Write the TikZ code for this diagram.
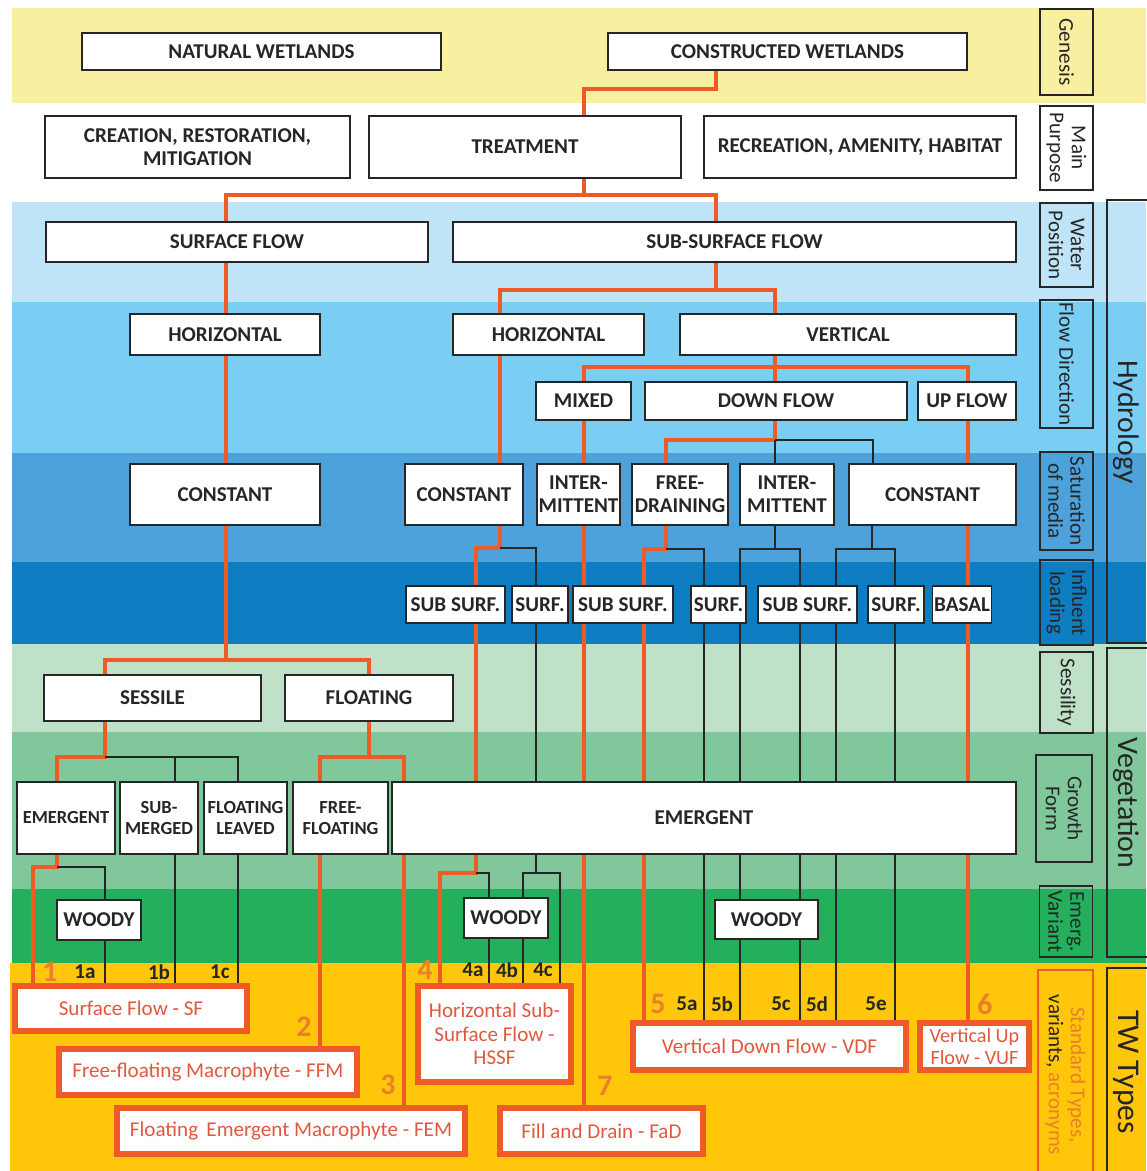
\documentclass[tikz,border=0pt]{standalone}
\usepackage{fontspec}
\setmainfont{Carlito}
\usetikzlibrary{backgrounds}
\definecolor{genF}{HTML}{F9EFA0}
\definecolor{watF}{HTML}{BFE4F7}
\definecolor{dirF}{HTML}{7ACEF3}
\definecolor{satF}{HTML}{4DA2DB}
\definecolor{infF}{HTML}{0F7DC2}
\definecolor{sesF}{HTML}{BEE1C8}
\definecolor{groF}{HTML}{80C79B}
\definecolor{varF}{HTML}{23AF5C}
\definecolor{typF}{HTML}{FFC60A}
\definecolor{ink}{HTML}{262626}
\definecolor{trunkO}{HTML}{EE5A28}
\definecolor{typeT}{HTML}{E2583F}
\definecolor{numO}{HTML}{EA7F2E}
\tikzset{
  box/.style={draw=ink, line width=0.9pt, fill=white, align=center,
              inner sep=1pt, text=ink, font=\fontsize{12}{13}\selectfont\bfseries},
  smallbox/.style={box, font=\fontsize{10.5}{12}\selectfont\bfseries},
  typebox/.style={draw=trunkO, line width=3.4pt, fill=white, align=center,
                  inner sep=1pt, text=typeT, font=\fontsize{12}{13.5}\selectfont},
  tag/.style={draw=ink, line width=0.8pt, rotate=-90, align=center,
              inner sep=0pt, minimum height=10.6mm, text=ink,
              font=\fontsize{12}{12.5}\selectfont},
  realm/.style={rotate=-90, text=ink, font=\fontsize{17}{17}\selectfont},
  frame/.style={draw=ink, line width=0.8pt},
  trunk/.style={draw=trunkO, line width=2.8pt},
  twig/.style={draw=ink, line width=0.8pt},
  num/.style={text=numO, font=\fontsize{17}{17}\selectfont\bfseries},
  variant/.style={text=ink, font=\fontsize{12}{12}\selectfont\bfseries},
}

\begin{document}
\begin{tikzpicture}[x=0.2mm, y=-0.2mm]
  \useasboundingbox (0,0) rectangle (1146,1171);

  % coloured levels
  \begin{scope}[on background layer]
    \fill[genF] (12,8) rectangle (1146,103);
    \fill[watF] (12,202) rectangle (1146,302);
    \fill[dirF] (12,302) rectangle (1146,453);
    \fill[satF] (12,453) rectangle (1146,562);
    \fill[infF] (12,562) rectangle (1146,644);
    \fill[sesF] (12,644) rectangle (1146,732);
    \fill[groF] (12,732) rectangle (1146,889);
    \fill[varF] (12,889) rectangle (1146,963);
    \fill[typF] (10,963) rectangle (1146,1171);
  \end{scope}

  % genesis and purpose
  \node[box, minimum width=71.8mm, minimum height=7.4mm] (nw) at (261.5,51.5) {NATURAL WETLANDS};
  \node[box, minimum width=71.8mm, minimum height=7.4mm] (cw) at (787.5,51.5) {CONSTRUCTED WETLANDS};
  \node[box, minimum width=61mm, minimum height=12.4mm] (crm) at (197.5,147) {CREATION, RESTORATION,\\ MITIGATION};
  \node[box, minimum width=62.4mm, minimum height=12.4mm] (tr) at (525,147) {TREATMENT};
  \node[box, minimum width=62.4mm, minimum height=12.4mm] (rah) at (860,147) {RECREATION, AMENITY, HABITAT};

  % hydrology
  \node[box, minimum width=76.4mm, minimum height=8mm] (sf) at (237,242) {SURFACE FLOW};
  \node[box, minimum width=112.6mm, minimum height=8mm] (ssf) at (734.5,242) {SUB-SURFACE FLOW};
  \node[box, minimum width=38mm, minimum height=8.2mm] (hl) at (225,334.5) {HORIZONTAL};
  \node[box, minimum width=38.2mm, minimum height=8.2mm] (hr) at (548.5,334.5) {HORIZONTAL};
  \node[box, minimum width=67.2mm, minimum height=8.2mm] (vt) at (848,334.5) {VERTICAL};
  \node[box, minimum width=19mm, minimum height=7.6mm] (mx) at (583.5,401) {MIXED};
  \node[box, minimum width=52.4mm, minimum height=7.6mm] (df) at (776,401) {DOWN FLOW};
  \node[box, minimum width=19.6mm, minimum height=7.6mm] (uf) at (967,401) {UP FLOW};
  \node[box, minimum width=38mm, minimum height=12.2mm] (cl) at (225,494.5) {CONSTANT};
  \node[box, minimum width=23.6mm, minimum height=12.2mm] (cm) at (464,494.5) {CONSTANT};
  \node[box, minimum width=16.6mm, minimum height=12.2mm] (im1) at (578.5,494.5) {INTER-\\MITTENT};
  \node[box, minimum width=19.2mm, minimum height=12.2mm] (fd) at (680,494.5) {FREE-\\DRAINING};
  \node[box, minimum width=18.8mm, minimum height=12.2mm] (im2) at (787,494.5) {INTER-\\MITTENT};
  \node[box, minimum width=33.4mm, minimum height=12.2mm] (cr) at (932.5,494.5) {CONSTANT};
  \node[box, minimum width=19.8mm, minimum height=7.4mm] (ss1) at (455.5,604.5) {SUB SURF.};
  \node[box, minimum width=11.2mm, minimum height=7.4mm] (su1) at (540,604.5) {SURF.};
  \node[box, minimum width=20mm, minimum height=7.4mm] (ss2) at (623,604.5) {SUB SURF.};
  \node[box, minimum width=11mm, minimum height=7.4mm] (su2) at (718.5,604.5) {SURF.};
  \node[box, minimum width=19.8mm, minimum height=7.4mm] (ss3) at (807.5,604.5) {SUB SURF.};
  \node[box, minimum width=11.2mm, minimum height=7.4mm] (su3) at (896,604.5) {SURF.};
  \node[box, minimum width=11.6mm, minimum height=7.4mm] (bs) at (962,604.5) {BASAL};

  % vegetation
  \node[box, minimum width=43.4mm, minimum height=9.2mm] (ses) at (152.5,698) {SESSILE};
  \node[box, minimum width=33.6mm, minimum height=9.2mm] (flo) at (369,698) {FLOATING};
  \node[smallbox, minimum width=19.6mm, minimum height=14.4mm] (em1) at (66,818) {EMERGENT};
  \node[smallbox, minimum width=15.6mm, minimum height=14.4mm] (sm) at (159,818) {SUB-\\MERGED};
  \node[smallbox, minimum width=16.6mm, minimum height=14.4mm] (fl) at (245.5,818) {FLOATING\\LEAVED};
  \node[smallbox, minimum width=19mm, minimum height=14.4mm] (ff) at (340.5,818) {FREE-\\FLOATING};
  \node[box, minimum width=124.8mm, minimum height=14.4mm] (em2) at (704,818) {EMERGENT};
  \node[box, minimum width=16.8mm, minimum height=8mm] (wd1) at (99,920) {WOODY};
  \node[box, minimum width=16.8mm, minimum height=8mm] (wd2) at (506,918) {WOODY};
  \node[box, minimum width=20.6mm, minimum height=7.8mm] (wd3) at (766.5,919.5) {WOODY};

  % treatment wetland types
  \node[typebox, minimum width=46.4mm, minimum height=9mm] (t1) at (131,1008.5) {Surface Flow - SF};
  \node[typebox, minimum width=59.6mm, minimum height=9.2mm] (t2) at (208,1072) {Free-floating Macrophyte - FFM};
  \node[typebox, minimum width=69.6mm, minimum height=9.2mm] (t3) at (291,1131) {Floating\, Emergent Macrophyte - FEM};
  \node[typebox, minimum width=30.6mm, minimum height=19.2mm] (t4) at (494.5,1034) {Horizontal Sub-\\Surface Flow -\\HSSF};
  \node[typebox, minimum width=54.6mm, minimum height=9.4mm] (t5) at (769.5,1046.5) {Vertical Down Flow - VDF};
  \node[typebox, minimum width=21.8mm, minimum height=9.4mm, font=\fontsize{11.5}{12}\selectfont] (t6) at (974.5,1046.5) {Vertical Up\\Flow - VUF};
  \node[typebox, minimum width=40.6mm, minimum height=9.2mm] (t7) at (601.5,1131) {Fill and Drain - FaD};

  % numbers and variants
  \node[num] (n1) at (50,972) {1};
  \node[num] (n2) at (304,1027) {2};
  \node[num] (n3) at (388,1085) {3};
  \node[num] (n4) at (425,970) {4};
  \node[num] (n5) at (658,1004) {5};
  \node[num] (n6) at (985,1004) {6};
  \node[num] (n7) at (605,1086) {7};
  \node[variant] (v1a) at (85,972) {1a};
  \node[variant] (v1b) at (159,972) {1b};
  \node[variant] (v1c) at (220,972) {1c};
  \node[variant] (v4a) at (473,970) {4a};
  \node[variant] (v4b) at (507,970) {4b};
  \node[variant] (v4c) at (543,970) {4c};
  \node[variant] (v5a) at (687,1004) {5a};
  \node[variant] (v5b) at (722,1004) {5b};
  \node[variant] (v5c) at (781,1004) {5c};
  \node[variant] (v5d) at (817,1004) {5d};
  \node[variant] (v5e) at (876,1004) {5e};

  % level tags on the right
  \node[tag, minimum width=17.2mm] (lgen) at (1066.5,52) {Genesis};
  \node[tag, minimum width=16.8mm] (lpur) at (1066.5,148) {Main\\Purpose};
  \node[tag, minimum width=16.8mm] (lwat) at (1066.5,245) {Water\\Position};
  \node[tag, minimum width=25.6mm] (ldir) at (1066.5,364) {Flow Direction};
  \node[tag, minimum width=19.6mm] (lsat) at (1066.5,501) {Saturation\\of media};
  \node[tag, minimum width=17mm] (linf) at (1066.5,602.5) {Influent\\loading};
  \node[tag, minimum width=16.2mm] (lses) at (1066.5,692.5) {Sessility};
  \node[tag, minimum width=21.4mm, minimum height=11.2mm] (lgro) at (1064,808.5) {Growth\\Form};
  \node[tag, minimum width=14.2mm] (lvar) at (1066,921.5) {Emerg.\\Variant};
  \node[tag, draw=trunkO, minimum width=42mm, minimum height=11mm] (lstd) at (1065.5,1075)
    {\textcolor{numO}{Standard Types,}\\ variants, \textcolor{numO}{acronyms}};

  % realms
  \draw[frame] (1160,200) -- (1107,200) -- (1107,643) -- (1160,643);
  \draw[frame] (1160,648) -- (1107,648) -- (1107,957) -- (1160,957);
  \draw[frame] (1160,968) -- (1107,968) -- (1107,1180);
  \node[realm] (rhyd) at (1126,422) {Hydrology};
  \node[realm] (rveg) at (1126,803) {Vegetation};
  \node[realm, font=\fontsize{18}{18}\selectfont] (rtyp) at (1126,1072) {TW Types};

  \begin{scope}[on background layer]
    % orange path to the standard types
    \coordinate (a1) at (716,89);
    \coordinate (a2) at (584,89);
    \draw[trunk] (cw.south -| a1) -- (a1) -- (a2) -- (tr.north -| a2);
    \coordinate (b0) at (584,195);
    \coordinate (b1) at (226,195);
    \coordinate (b2) at (716,195);
    \draw[trunk] (tr.south -| b0) -- (b0);
    \draw[trunk] (sf.north -| b1) -- (b1) -- (b2) -- (ssf.north -| b2);
    % surface flow
    \coordinate (c0) at (226,660);
    \coordinate (c1) at (105,660);
    \coordinate (c2) at (369,660);
    \draw[trunk] (sf.south -| c0) -- (hl.north -| c0) (hl.south -| c0) -- (cl.north -| c0)
      (cl.south -| c0) -- (c0);
    \draw[trunk] (ses.north -| c1) -- (c1) -- (c2) -- (flo.north -| c2);
    \coordinate (d1) at (105,757);
    \coordinate (d2) at (57,757);
    \draw[trunk] (ses.south -| d1) -- (d1) -- (d2) -- (em1.north -| d2);
    \coordinate (d3) at (57,867);
    \coordinate (d4) at (33,867);
    \draw[trunk] (em1.south -| d3) -- (d3) -- (d4) -- (t1.north -| d4);
    \coordinate (e0) at (369,757);
    \coordinate (e1) at (320,757);
    \coordinate (e2) at (404,757);
    \draw[trunk] (flo.south -| e0) -- (e0);
    \draw[trunk] (ff.north -| e1) -- (e1) -- (e2) -- (t3.north -| e2);
    \draw[trunk] (ff.south -| e1) -- (t2.north -| e1);
    % sub-surface flow
    \coordinate (f0) at (716,290);
    \coordinate (f1) at (500,290);
    \coordinate (f2) at (775,290);
    \draw[trunk] (ssf.south -| f0) -- (f0);
    \draw[trunk] (hr.north -| f1) -- (f1) -- (f2) -- (vt.north -| f2);
    \coordinate (g0) at (500,548);
    \coordinate (g1) at (476,548);
    \coordinate (g2) at (476,873);
    \coordinate (g3) at (440,873);
    \draw[trunk] (hr.south -| g0) -- (cm.north -| g0) (cm.south -| g0) -- (g0) -- (g1)
      -- (g2) -- (g3) -- (t4.north -| g3);
    \coordinate (h0) at (775,367);
    \coordinate (h1) at (584,367);
    \coordinate (h2) at (968,367);
    \draw[trunk] (vt.south -| h0) -- (df.north -| h0);
    \draw[trunk] (mx.north -| h1) -- (h1) -- (h2) -- (uf.north -| h2);
    \draw[trunk] (mx.south -| h1) -- (im1.north -| h1) (im1.south -| h1) -- (t7.north -| h1);
    \coordinate (i0) at (775,440);
    \coordinate (i1) at (666,440);
    \draw[trunk] (df.south -| i0) -- (i0) -- (i1) -- (fd.north -| i1);
    \coordinate (i2) at (666,549);
    \coordinate (i3) at (644,549);
    \draw[trunk] (fd.south -| i2) -- (i2) -- (i3) -- (t5.north -| i3);
    \draw[trunk] (uf.south -| h2) -- (cr.north -| h2) (cr.south -| h2) -- (t6.north -| h2);

    % thin branches to the variants
    \coordinate (k1) at (536,548);
    \coordinate (k2) at (536,873);
    \coordinate (k3) at (523,873);
    \coordinate (k4) at (560,873);
    \coordinate (k5) at (489,873);
    \draw[twig] (g0) -- (k1) -- (su1.north -| k1);
    \draw[twig] (su1.south -| k1) -- (em2.north -| k1);
    \draw[twig] (em2.south -| k2) -- (k2);
    \draw[twig] (t4.north -| k3) -- (k3) -- (k4) -- (t4.north -| k4);
    \draw[twig] (g2) -- (k5) -- (t4.north -| k5);
    \coordinate (l1) at (175,757);
    \coordinate (l2) at (238,757);
    \coordinate (l3) at (105,867);
    \draw[twig] (d1) -- (l2) -- (fl.north -| l2);
    \draw[twig] (l1) -- (sm.north -| l1);
    \draw[twig] (sm.south -| l1) -- (t1.north -| l1);
    \draw[twig] (fl.south -| l2) -- (t1.north -| l2);
    \draw[twig] (d3) -- (l3) -- (t1.north -| l3);
    \coordinate (m1) at (873,440);
    \coordinate (m2) at (704,549);
    \draw[twig] (i0) -- (m1) -- (cr.north -| m1);
    \draw[twig] (i0) -- (im2.north -| i0);
    \draw[twig] (i2) -- (m2) -- (su2.north -| m2);
    \draw[twig] (su2.south -| m2) -- (em2.north -| m2) (em2.south -| m2) -- (t5.north -| m2);
    \coordinate (n0) at (775,549);
    \coordinate (n1) at (740,549);
    \coordinate (n2) at (800,549);
    \draw[twig] (im2.south -| n0) -- (n0);
    \draw[twig] (em2.north -| n1) -- (n1) -- (n2) -- (ss3.north -| n2);
    \draw[twig] (ss3.south -| n2) -- (em2.north -| n2);
    \draw[twig] (em2.south -| n1) -- (t5.north -| n1) (em2.south -| n2) -- (t5.north -| n2);
    \coordinate (o0) at (872,549);
    \coordinate (o1) at (836,549);
    \coordinate (o2) at (895,549);
    \draw[twig] (cr.south -| o0) -- (o0);
    \draw[twig] (em2.north -| o1) -- (o1) -- (o2) -- (em2.north -| o2);
    \draw[twig] (em2.south -| o1) -- (t5.north -| o1) (em2.south -| o2) -- (t5.north -| o2);
  \end{scope}
\end{tikzpicture}
\end{document}
